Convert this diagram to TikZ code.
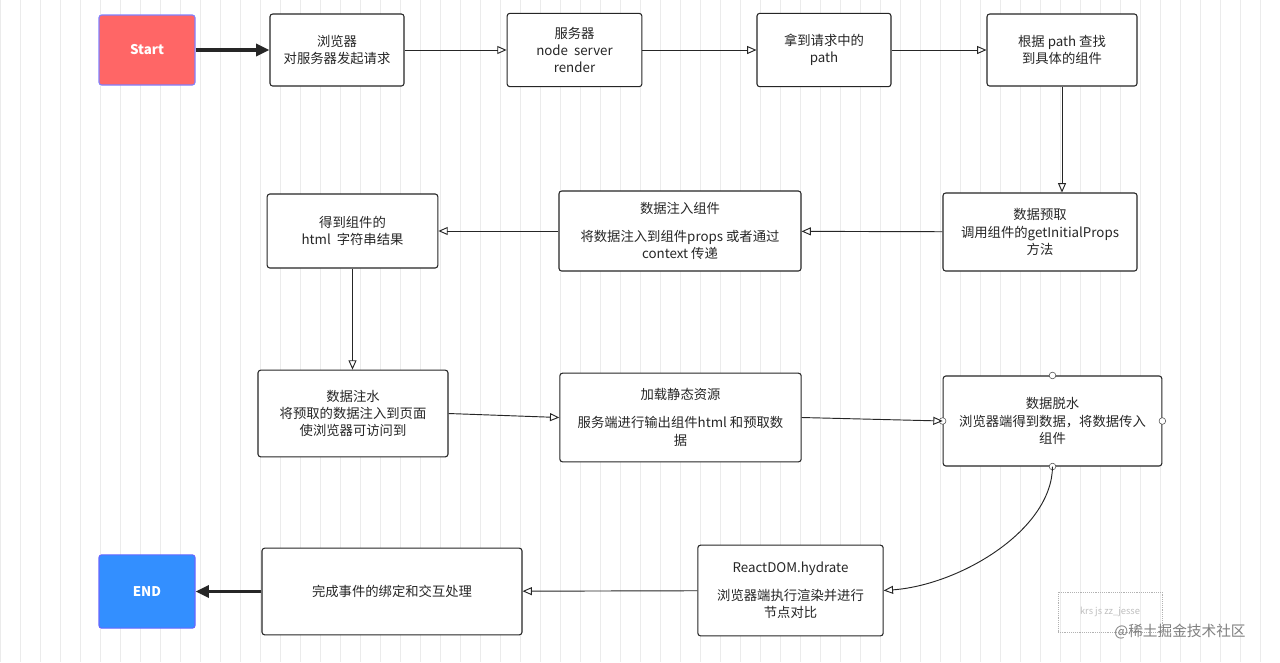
\documentclass[tikz,border=0pt]{standalone}
\usepackage{fontspec}
\setmainfont{Noto Sans CJK SC}
\usetikzlibrary{arrows.meta}
\begin{document}
\begin{tikzpicture}[x=0.75pt,y=-0.75pt,
  box/.style={draw=black!85,line width=0.8pt,rounded corners=2pt,fill=white,align=center,font=\fontsize{10}{13}\selectfont,text=black!85,inner sep=2pt},
  arr/.style={draw=black!85,line width=0.7pt,-{Triangle[open,length=7pt,width=6pt]}},
  big/.style={draw=black!85,line width=2.5pt,-{Triangle[length=10pt,width=9pt]}},
  dot/.style={circle,draw=black!70,fill=white,inner sep=0pt,minimum size=5pt}]
\useasboundingbox (0,0) rectangle (1280,662);
\fill[white] (0,0) rectangle (1280,662);
\draw[black!8,line width=0.4pt,step=20] (0,0) grid (1280,662);
\node[box,fill=red!60!white,draw=blue!50,text=white,minimum width=72pt,minimum height=52.5pt,font=\fontsize{10}{13}\selectfont\bfseries] (start) at (147,50) {Start};
\node[box,minimum width=100.5pt,minimum height=54pt] (b1) at (337,50) {浏览器\\对服务器发起请求};
\node[box,minimum width=101pt,minimum height=55pt] (b2) at (574.5,50) {服务器\\node\ \ server\\render};
\node[box,minimum width=100.5pt,minimum height=55pt] (b3) at (824,50) {拿到请求中的\\path};
\node[box,minimum width=112.5pt,minimum height=54pt] (b4) at (1062,50) {根据 path 查找\\到具体的组件};
\node[box,minimum width=145.5pt,minimum height=58.5pt] (b5) at (1040,232) {数据预取\\调用组件的getInitialProps\\方法};
\node[box,minimum width=181.5pt,minimum height=60pt] (b6) at (680,231) {数据注入组件\\[8pt]将数据注入到组件props 或者通过\\context 传递};
\node[box,minimum width=128pt,minimum height=55.5pt] (b7) at (352.5,231) {得到组件的\\html\ \ 字符串结果};
\node[box,minimum width=142.5pt,minimum height=65pt] (b8) at (353,413.5) {数据注水\\将预取的数据注入到页面\\使浏览器可访问到};
\node[box,minimum width=181pt,minimum height=66.5pt] (b9) at (680.5,417.5) {加载静态资源\\[8pt]服务端进行输出组件html 和预取数\\据};
\node[box,minimum width=164pt,minimum height=67.5pt] (b10) at (1052.5,421) {数据脱水\\浏览器端得到数据，将数据传入\\组件};
\node[box,minimum width=139pt,minimum height=68pt] (b11) at (790.5,590.5) {ReactDOM.hydrate\\[8pt]浏览器端执行渲染并进行\\节点对比};
\node[box,minimum width=195pt,minimum height=65pt] (b12) at (392,591.5) {完成事件的绑定和交互处理};
\node[box,fill=blue!55!cyan!80,draw=blue!60,text=white,minimum width=72pt,minimum height=55pt,font=\fontsize{10}{13}\selectfont\bfseries] (end) at (147,591.5) {END};
\foreach \a in {north,south,east,west} \node[dot] at (b10.\a) {};
\draw[big] (start) -- (b1);
\draw[arr] (b1) -- (b2);
\draw[arr] (b2) -- (b3);
\draw[arr] (b3) -- (b4);
\draw[arr] (b4) -- (b4 |- b5.north);
\draw[arr] (b5) -- (b6);
\draw[arr] (b6) -- (b7);
\draw[arr] (b7) -- (b7 |- b8.north);
\draw[arr] (b8.east) -- (b9.west);
\draw[arr] (b9.east) -- (b10.west);
\draw[arr] (b10.south) .. controls (1052,530) and (960,585) .. (b11.east);
\draw[arr] (b11) -- (b12);
\draw[big] (b12) -- (end);
\node[draw=black!30,densely dotted,minimum width=78pt,minimum height=30pt,text=black!25,font=\fontsize{7}{8}\selectfont] (wm) at (1110,612) {krs js zz\_jesse};
\node[text=black!50,font=\fontsize{11}{13}\selectfont] (wm2) at (1180,632) {@稀土掘金技术社区};
\end{tikzpicture}
\end{document}
